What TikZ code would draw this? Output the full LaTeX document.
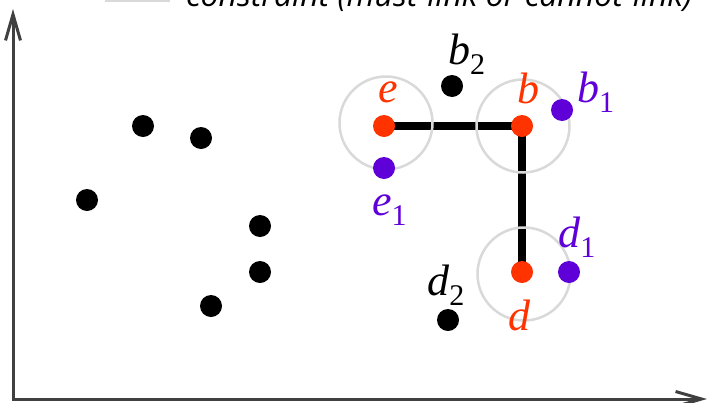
\documentclass[tikz,border=0pt]{standalone}
\usepackage{fontspec}
\setmainfont{Liberation Serif}
\newfontfamily\legfont{Open Sans}
\usetikzlibrary{arrows.meta,backgrounds}
\definecolor{ptred}{HTML}{FF3300}
\definecolor{ptpurple}{HTML}{6000D8}
\definecolor{ringgray}{HTML}{D9D9D9}
\definecolor{axisgray}{HTML}{404040}
\newcommand\ptlab[2]{\fontsize{44}{44}\selectfont\textit{#1}\raisebox{-10pt}{\fontsize{30}{30}\selectfont #2}}
\begin{document}
\begin{tikzpicture}[x=1pt,y=-1pt,
  dotnode/.style={circle,inner sep=0pt,minimum size=22pt,fill=#1},
  ring/.style={circle,inner sep=0pt,minimum size=93pt,draw=ringgray,line width=2.5pt},
  linkline/.style={line width=7.5pt,black},
  axisline/.style={line width=3pt,draw=axisgray,{Straight Barb[length=26pt,width=15pt]}-{Straight Barb[length=26pt,width=15pt]}},
  lab/.style={anchor=base west,inner sep=0pt,text=#1}]
\useasboundingbox (0,0) rectangle (711,402);
\clip (0,0) rectangle (711,402);
% legend (cut off at the top)
\coordinate (lg1) at (105,0);
\coordinate (lg2) at (170,0);
\draw[ringgray,line width=4pt] (lg1) -- (lg2);
\node[anchor=base west,inner sep=0pt] (legtext) at (186,6) {\legfont\itshape\fontsize{32}{32}\selectfont constraint (must-link or cannot-link)};
% axes
\coordinate (ytip) at (13,9);
\coordinate (orig) at (13,399);
\coordinate (xtip) at (707,399);
\draw[axisline] (ytip) -- (orig) -- (xtip);
% rings
\node[ring] (re) at (386,123) {};
\node[ring] (rb) at (523,126) {};
\node[ring] (rd) at (524,274) {};
% black points
\node[dotnode=black] (p1) at (143,126) {};
\node[dotnode=black] (p2) at (201,138) {};
\node[dotnode=black] (p3) at (87,200) {};
\node[dotnode=black] (p4) at (260,226) {};
\node[dotnode=black] (p5) at (260,272) {};
\node[dotnode=black] (p6) at (211,306) {};
\node[dotnode=black] (b2) at (452,86) {};
\node[dotnode=black] (d2) at (448,320) {};
% constrained points
\node[dotnode=ptred] (e) at (384,126) {};
\node[dotnode=ptred] (b) at (522,126) {};
\node[dotnode=ptred] (d) at (522,272) {};
\node[dotnode=ptpurple] (e1) at (384,168) {};
\node[dotnode=ptpurple] (b1) at (562,110) {};
\node[dotnode=ptpurple] (d1) at (569,272) {};
\begin{scope}[on background layer]
\draw[linkline] (e.center) -- (b.center) -- (d.center);
\end{scope}
% labels
\node[lab=ptred] (le) at (378,102) {\ptlab{e}{}};
\node[lab=ptred] (lb) at (517,103) {\ptlab{b}{}};
\node[lab=ptred] (ld) at (508,330) {\ptlab{d}{}};
\node[lab=ptpurple] (le1) at (372,215) {\ptlab{e}{1}};
\node[lab=ptpurple] (lb1) at (577,102) {\ptlab{b}{1}};
\node[lab=ptpurple] (ld1) at (558,247) {\ptlab{d}{1}};
\node[lab=black] (lb2) at (448,64) {\ptlab{b}{2}};
\node[lab=black] (ld2) at (427,295) {\ptlab{d}{2}};
\end{tikzpicture}
\end{document}
